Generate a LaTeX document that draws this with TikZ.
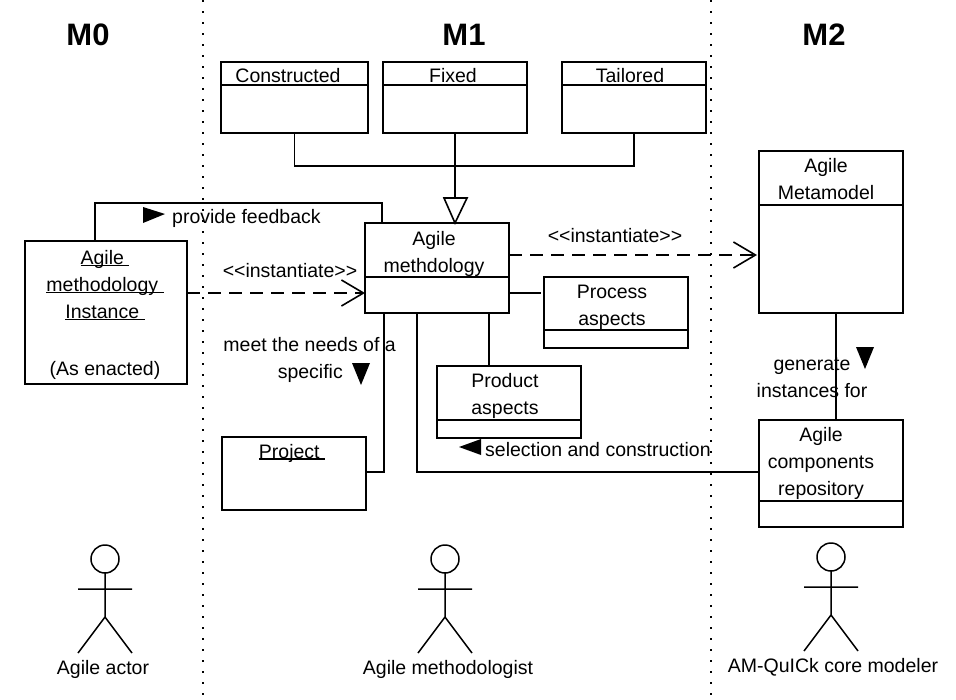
\documentclass[tikz,border=0pt]{standalone}
\usepackage{fontspec}
\setmainfont{Liberation Sans}
\usetikzlibrary{arrows.meta}
\newcommand{\ultext}[1]{\setbox0=\hbox{#1}\rlap{\rule[-1.6pt]{\wd0}{1.2pt}}\box0}
\tikzset{
  classbox/.style={draw,line width=1.6pt,outer sep=0pt,minimum width=144pt,anchor=north west,inner sep=0pt},
  classtext/.style={align=center,font=\fontsize{19.5}{27}\selectfont,inner sep=0pt},
  assoc/.style={line width=1.6pt},
  dashlink/.style={dash pattern=on 13pt off 8pt,line width=1.6pt,-{Straight Barb[length=22pt,width=26pt,line width=1.6pt]}},
  marker/.style={fill=black,draw=none},
  levellabel/.style={font=\fontsize{31}{31}\selectfont\bfseries,inner sep=0pt},
  columnline/.style={line width=2pt,dash pattern=on 2pt off 9pt},
  figline/.style={line width=1.5pt}
}
\newcommand{\actorfig}[2]{%
  \draw[figline] (#1,#2) circle (14);
  \draw[figline] (#1,#2+14)--(#1,#2+58) (#1-27,#2+30)--(#1+27,#2+30) (#1-27,#2+94)--(#1,#2+58)--(#1+27,#2+94);
}
\begin{document}
\begin{tikzpicture}[x=1pt,y=-1pt]
\useasboundingbox (0,0) rectangle (956,699);
\draw[columnline] (203,0)--(203,699) (711,0)--(711,699);
\node[levellabel] (levelA) at (88,35) {M0};
\node[levellabel] (levelB) at (464,35) {M1};
\node[levellabel] (levelC) at (824,35) {M2};
% top row
\node[classbox,minimum width=147pt,minimum height=71pt] (constructed) at (221,62) {};
\node[classbox,minimum height=71pt] (fixed) at (383,62) {};
\node[classbox,minimum height=71pt] (tailored) at (562,62) {};
\draw[assoc] (221,85)--(368,85) (383,85)--(527,85) (562,85)--(706,85);
\node[classtext] (constructedname) at (288,76) {Constructed};
\node[classtext] (fixedname) at (453,76) {Fixed};
\node[classtext] (tailoredname) at (630,76) {Tailored};
% classes
\node[classbox,minimum height=90pt] (methodology) at (365,223) {};
\node[classbox,minimum width=162pt,minimum height=143pt] (instance) at (25,241) {};
\node[classbox,minimum height=73pt] (project) at (222,437) {};
\node[classbox,minimum height=71pt] (process) at (544,277) {};
\node[classbox,minimum height=72pt] (product) at (437,366) {};
\node[classbox,minimum height=162pt] (metamodel) at (759,151) {};
\node[classbox,minimum height=107pt] (repository) at (759,420) {};
\draw[assoc] (365,277)--(509,277) (544,330)--(688,330) (437,420)--(581,420) (759,205)--(903,205) (759,501)--(903,501);
\node[classtext] (methodologyname) at (434,254) {Agile\\methdology};
\node[classtext] (instancename) at (105,315) {\ultext{Agile }\\\ultext{methodology }\\\ultext{Instance }\\[30pt](As enacted)};
\node[classtext] (projectname) at (292,453) {\ultext{Project }};
\node[classtext] (processname) at (612,307) {Process\\aspects};
\node[classtext] (productname) at (505,396) {Product\\aspects};
\node[classtext] (metamodelname) at (826,179) {Agile\\Metamodel};
\node[classtext] (repositoryname) at (821,463) {Agile\\components\\repository};
% generalisation
\coordinate (triangletop) at (455,198);
\draw[assoc] (constructed.south) |- (triangletop |- 0,166) -| (tailored.south);
\draw[assoc] (fixed.south)--(triangletop);
\draw[assoc,fill=white] (444,198)--(467,198)--(fixed.south |- methodology.north)--cycle;
% associations
\draw[assoc] ([xshift=-11pt]instance.north) |- (95,203) -| ([xshift=-55pt]methodology.north);
\draw[dashlink] ([yshift=19.5pt]instance.east)--([yshift=-25pt]methodology.west);
\draw[dashlink] ([yshift=13pt]methodology.east)--([xshift=-2pt,yshift=-23pt]metamodel.west);
\draw[assoc] ([yshift=-25pt]methodology.east)--([xshift=-3pt,yshift=19.5pt]process.west);
\draw[assoc] ([xshift=52pt]methodology.south)--([xshift=-20pt]product.north);
\draw[assoc] ([xshift=-20pt]methodology.south) |- ([yshift=1.5pt]repository.west);
\draw[assoc] ([xshift=-53pt]methodology.south) |- ([yshift=1.5pt]project.east);
\draw[assoc] ([xshift=5pt]metamodel.south)--([xshift=5pt]repository.north);
% labels
\fill[marker] (143,207)--(165,214)--(143,223)--cycle;
\node[classtext,anchor=west] (feedbacklabel) at (172,218) {provide feedback};
\node[classtext] (instlabelA) at (290,271) {<{}<instantiate>{}>};
\node[classtext] (instlabelB) at (615,236) {<{}<instantiate>{}>};
\node[classtext,align=right,anchor=north east] (needslabel) at (396,337) {meet the needs of a\\specific\hspace*{53pt}};
\fill[marker] (352,363)--(370,363)--(361,385)--cycle;
\fill[marker] (856,347)--(874,347)--(865,369)--cycle;
\node[classtext] (generatelabel) at (812,378) {generate\\instances for};
\fill[marker] (459,447)--(481,439)--(481,455)--cycle;
\node[classtext,anchor=west] (selectionlabel) at (485,450) {selection and construction};
% actors
\actorfig{105}{559}
\actorfig{445}{559}
\actorfig{831}{557}
\node[classtext] (actorA) at (103,669) {Agile actor};
\node[classtext] (actorB) at (448,669) {Agile methodologist};
\node[classtext] (actorC) at (833,667) {AM-QuICk core modeler};
\end{tikzpicture}
\end{document}
